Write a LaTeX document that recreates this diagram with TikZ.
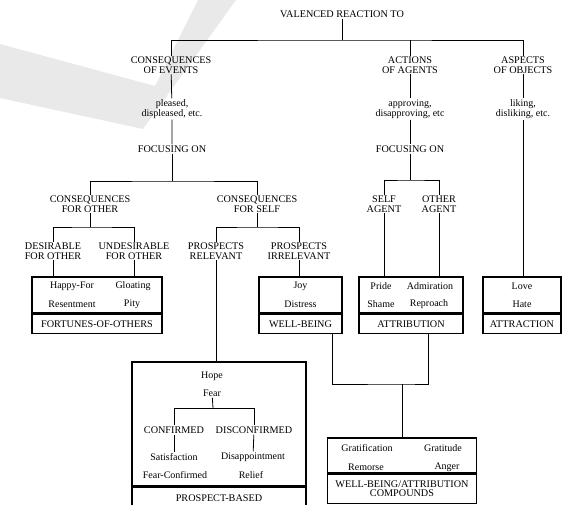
\documentclass[tikz,border=0pt]{standalone}
\usepackage{fontspec}
\setmainfont{Liberation Serif}
\usetikzlibrary{positioning, calc}

\tikzset{
  caps/.style={align=center, font=\fontsize{10.2}{9.6}\selectfont, inner sep=1pt},
  word/.style={align=center, font=\fontsize{10}{10}\selectfont, inner sep=1pt},
  boxtop/.style={draw, line width=1.2pt, minimum height=36pt, inner sep=0pt},
  boxname/.style={draw, line width=1.2pt, minimum height=19pt, inner sep=0pt, align=center, font=\fontsize{10.2}{9.6}\selectfont},
  branch/.style={line width=0.8pt}
}

\begin{document}
\begin{tikzpicture}[x=1pt, y=-1pt]
\useasboundingbox (0,0) rectangle (564,504);
\clip (0,0) rectangle (564,504);
% grey stroke behind the tree
\fill[gray!17] (0,44) -- (155,86) -- (198,0) -- (236,0) -- (143,129) -- (0,98) -- cycle;

% top level
\node[caps] (title) at (342,14) {VALENCED REACTION TO};
\coordinate (b0) at (342,40);
\node[caps] (cev) at (171,65) {CONSEQUENCES\\OF EVENTS};
\node[caps] (aag) at (410,65) {ACTIONS\\OF AGENTS};
\node[caps] (aob) at (523,65) {ASPECTS\\OF OBJECTS};
\node[word] (pleased) at (172,109) {pleased,\\displeased, etc.};
\node[word] (approving) at (410,109) {approving,\\disapproving, etc};
\node[word] (liking) at (523,109) {liking,\\disliking, etc.};
\node[caps] (focl) at (172,149) {FOCUSING ON};
\node[caps] (focr) at (410,149) {FOCUSING ON};

% events branch
\coordinate (b1) at (172,181);
\node[caps] (cfo) at (90,204) {CONSEQUENCES\\FOR OTHER};
\node[caps] (cfs) at (257,204) {CONSEQUENCES\\FOR SELF};
\coordinate (b2) at (90,227);
\coordinate (b3) at (257,227);
\node[caps] (dfo) at (53,251) {DESIRABLE\\FOR OTHER};
\node[caps] (ufo) at (134,251) {UNDESIRABLE\\FOR OTHER};
\node[caps] (prel) at (216,251) {PROSPECTS\\RELEVANT};
\node[caps] (pirr) at (299,251) {PROSPECTS\\IRRELEVANT};

% agents branch
\coordinate (b4) at (410,180);
\node[caps] (sag) at (384,204) {SELF\\AGENT};
\node[caps] (oag) at (439,204) {OTHER\\AGENT};

% boxes
\node[boxtop, minimum width=130pt] (fort) at (97,295) {};
\node[boxname, minimum width=130pt, anchor=north] (fortT) at (fort.south) {FORTUNES-OF-OTHERS};
\node[word] (happyfor) at (72,286) {Happy-For};
\node[word] (gloating) at (133,286) {Gloating};
\node[word] (resent) at (72,304) {Resentment};
\node[word] (pity) at (132,304) {Pity};

\node[boxtop, minimum width=83pt] (wb) at (300.5,295) {};
\node[boxname, minimum width=83pt, anchor=north] (wbT) at (wb.south) {WELL-BEING};
\node[word] (joy) at (300.5,286) {Joy};
\node[word] (distress) at (300.5,304) {Distress};

\node[boxtop, minimum width=104pt] (attr) at (411,295) {};
\node[boxname, minimum width=104pt, anchor=north] (attrT) at (attr.south) {ATTRIBUTION};
\node[word] (pride) at (381,286) {Pride};
\node[word] (admir) at (430,286) {Admiration};
\node[word] (shame) at (381,304) {Shame};
\node[word] (reproach) at (429,304) {Reproach};

\node[boxtop, minimum width=78pt] (attc) at (522,295) {};
\node[boxname, minimum width=78pt, anchor=north] (attcT) at (attc.south) {ATTRACTION};
\node[word] (love) at (522,286) {Love};
\node[word] (hate) at (522,304) {Hate};

\node[boxtop, minimum width=174pt, minimum height=124pt] (pros) at (219,424) {};
\node[boxname, minimum width=174pt, minimum height=22pt, anchor=north] (prosT) at (pros.south) {PROSPECT-BASED};
\node[word] (hope) at (212,376) {Hope};
\node[word] (fear) at (212,393) {Fear};
\coordinate (b5) at (213,408);
\node[caps] (conf) at (174,430) {CONFIRMED};
\node[caps] (disc) at (254,430) {DISCONFIRMED};
\node[word] (satis) at (174,457) {Satisfaction};
\node[word] (disap) at (253,457) {Disappointment};
\node[word] (fconf) at (175,475) {Fear-Confirmed};
\node[word] (relief) at (251,475) {Relief};

\coordinate (jn) at (402,384);
\node[boxtop, minimum width=149pt, minimum height=35pt] (comp) at (402,455.5) {};
\node[boxname, minimum width=149pt, minimum height=29pt, anchor=north] (compT) at (comp.south) {WELL-BEING/ATTRIBUTION\\COMPOUNDS};
\node[word] (gratif) at (367,448) {Gratification};
\node[word] (gratit) at (443,448) {Gratitude};
\node[word] (remorse) at (366,467) {Remorse};
\node[word] (anger) at (447,467) {Anger};

% connectors
\draw[branch] (title) -- (b0);
\draw[branch] (cev.north) |- (b0) -| (aob.north);
\draw[branch] (aag.north) -- (aag.north |- b0);
\draw[branch] (cev) -- (pleased) -- (focl);
\draw[branch] (aag) -- (approving) -- (focr);
\draw[branch] (aob) -- (liking) -- (liking.south |- attc.north);
\draw[branch] (focl) -- (b1);
\draw[branch] (cfo.north) |- (b1) -| (cfs.north);
\draw[branch] (cfo) -- (b2);
\draw[branch] (dfo.north) |- (b2) -| (ufo.north);
\draw[branch] (cfs) -- (b3);
\draw[branch] (prel.north) |- (b3) -| (pirr.north);
\draw[branch] (dfo) -- (dfo.south |- fort.north);
\draw[branch] (ufo) -- (ufo.south |- fort.north);
\draw[branch] (prel) -- (prel.south |- pros.north);
\draw[branch] (pirr) -- (pirr.south |- wb.north);
\draw[branch] (focr) -- (b4);
\draw[branch] (sag.north) |- (b4) -| (oag.north);
\draw[branch] (sag) -- (sag.south |- attr.north);
\draw[branch] (oag) -- (oag.south |- attr.north);
\draw[branch] ([xshift=-10pt]wbT.south east) |- (jn) -| ([xshift=-35pt]attrT.south east);
\draw[branch] (jn) -- (comp);
\draw[branch] (fear) -- (b5);
\draw[branch] (conf.north) |- (b5) -| (disc.north);
\draw[branch] (conf) -- (satis);
\draw[branch] (disc) -- (disap);
\end{tikzpicture}
\end{document}
